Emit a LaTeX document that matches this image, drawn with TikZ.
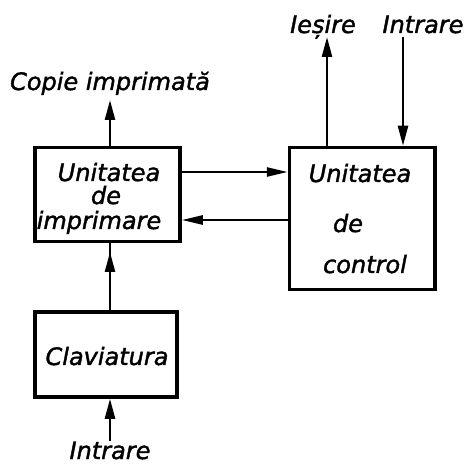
\documentclass[tikz,border=0pt]{standalone}
\usepackage{fontspec}
\setmainfont{DejaVu Sans}[ItalicFeatures={FakeBold=1.6}]
\usetikzlibrary{arrows.meta}
\begin{document}
\begin{tikzpicture}[x=1pt,y=-1pt,
  box/.style={draw, line width=3.5pt, inner sep=0pt},
  lbl/.style={anchor=base, inner sep=0pt, font=\fontsize{24}{28}\selectfont\itshape},
  conn/.style={line width=2.5pt},
  arr/.style={line width=2.5pt, -{Triangle[length=20pt,width=10pt]}},
  harr/.style={line width=2.5pt, -{Triangle[length=21pt,width=9pt]}}]
\useasboundingbox (0,0) rectangle (469,465);
% boxes
\node[box, minimum width=145pt, minimum height=94pt] (imp) at (107.5,194.5) {};
\node[box, minimum width=145.5pt, minimum height=142pt] (ctl) at (362.25,218.5) {};
\node[box, minimum width=142pt, minimum height=85pt] (clav) at (106,354.5) {};
% box texts
\node[lbl] (t1) at (109,181) {Unitatea};
\node[lbl] (t2) at (106,204) {de};
\node[lbl] (t3) at (99,229) {imprimare};
\node[lbl] (t4) at (360,182) {Unitatea};
\node[lbl] (t5) at (348,232) {de};
\node[lbl] (t6) at (365,273) {control};
\node[lbl] (t7) at (107,365) {Claviatura};
% outside labels
\node[lbl] (copie) at (110,90) {Copie imprimată};
\node[lbl] (iesire) at (323,33) {Ieșire};
\node[lbl] (intr1) at (423,33) {Intrare};
\node[lbl] (intr2) at (110,459) {Intrare};
% coordinates
\coordinate (copieEnd) at (110,100);
\coordinate (iesEnd) at (327,37);
\coordinate (inStart) at (403,37);
\coordinate (h1) at (0,172);
\coordinate (h2) at (0,220);
\coordinate (midTip) at (110,252);
\coordinate (in2Start) at (110,441);
% connectors
\draw[arr] (imp.north -| copieEnd) -- (copieEnd);
\draw[arr] (ctl.north -| iesEnd) -- (iesEnd);
\draw[arr] (inStart) -- (ctl.north -| inStart);
\draw[harr] (imp.east |- h1) -- (ctl.west |- h1);
\draw[harr] (ctl.west |- h2) -- (imp.east |- h2);
\draw[conn] (clav.north -| midTip) -- (imp.south -| midTip);
\draw[arr] (clav.north -| midTip) -- (midTip);
\draw[arr] (in2Start) -- (clav.south -| in2Start);
\end{tikzpicture}
\end{document}
